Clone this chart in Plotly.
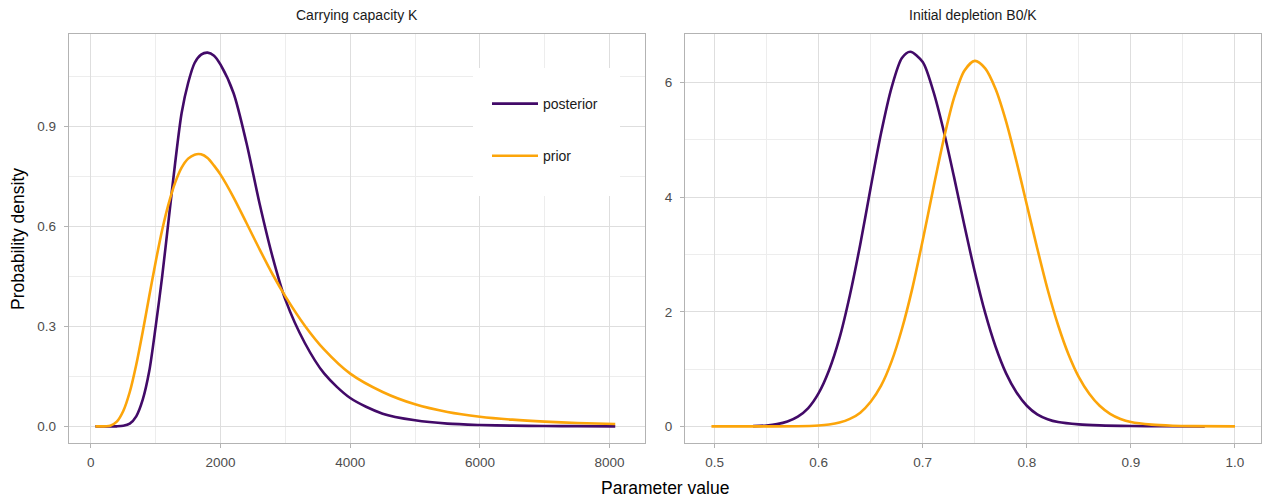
import plotly.graph_objects as go

# ---------------- data ----------------
# Carrying capacity K
k_x = [70, 300, 400, 500, 600, 700, 800, 900, 1000, 1100, 1200, 1300, 1400,
       1500, 1600, 1700, 1800, 1900, 2000, 2200, 2400, 2600, 2800, 3000, 3300,
       3600, 4000, 4500, 5000, 5500, 6000, 6500, 7000, 7500, 8087]
k_post = [0.0, 0.0, 0.0, 0.0015, 0.008, 0.03, 0.08, 0.165, 0.3, 0.45, 0.62,
          0.79, 0.94, 1.03, 1.09, 1.115, 1.121, 1.112, 1.085, 1.0, 0.85, 0.67,
          0.51, 0.38, 0.25, 0.158, 0.085, 0.038, 0.018, 0.008, 0.004, 0.002,
          0.001, 0.0005, 0.0]
k_prior = [0.0, 0.002, 0.014, 0.046, 0.103, 0.185, 0.284, 0.39, 0.494, 0.589,
           0.668, 0.731, 0.776, 0.803, 0.815, 0.816, 0.805, 0.782, 0.755, 0.687,
           0.61, 0.532, 0.457, 0.39, 0.302, 0.23, 0.158, 0.103, 0.066, 0.043,
           0.029, 0.02, 0.014, 0.01, 0.007]

# Initial depletion B0/K
d_post_x = [0.537, 0.55, 0.56, 0.57, 0.58, 0.59, 0.60, 0.61, 0.62, 0.63, 0.64,
            0.65, 0.66, 0.67, 0.68, 0.688, 0.70, 0.71, 0.72, 0.73, 0.74, 0.75,
            0.76, 0.77, 0.78, 0.79, 0.80, 0.81, 0.82, 0.83, 0.85, 0.87, 0.90,
            0.93, 0.971]
d_post = [0.005, 0.016, 0.039, 0.085, 0.17, 0.32, 0.58, 0.98, 1.54, 2.29, 3.18,
          4.17, 5.12, 5.91, 6.43, 6.54, 6.36, 5.86, 5.17, 4.36, 3.51, 2.70,
          1.98, 1.39, 0.93, 0.595, 0.36, 0.21, 0.125, 0.075, 0.035, 0.018,
          0.007, 0.002, 0.0]
d_prior_x = [0.497, 0.55, 0.58, 0.60, 0.61, 0.62, 0.63, 0.64, 0.65, 0.66, 0.67,
             0.68, 0.69, 0.70, 0.71, 0.72, 0.73, 0.74, 0.75, 0.76, 0.77, 0.78,
             0.79, 0.80, 0.81, 0.82, 0.83, 0.84, 0.85, 0.86, 0.87, 0.88, 0.89,
             0.90, 0.92, 0.94, 0.96, 1.0]
d_prior = [0.0, 0.0005, 0.003, 0.015, 0.032, 0.066, 0.13, 0.24, 0.43, 0.71,
           1.13, 1.70, 2.41, 3.25, 4.14, 5.00, 5.73, 6.21, 6.38, 6.25, 5.89,
           5.33, 4.63, 3.87, 3.11, 2.39, 1.77, 1.26, 0.86, 0.57, 0.36, 0.22,
           0.13, 0.075, 0.03, 0.012, 0.005, 0.001]

panel_titles = ["Carrying capacity K", "Initial depletion B0/K"]
series_names = ["posterior", "prior"]
colors = {"posterior": "#420A68", "prior": "#FCA50A"}

# ---------------- figure ----------------
W, H = 1262, 499
ml, mr, mt, mb = 69, 1, 34, 56
pw = W - ml - mr
ph = H - mt - mb
FONT = "Liberation Sans, Arial, sans-serif"


def px_x(p):
    return (p - ml) / pw


def px_y(p):
    return (H - mb - p) / ph


fig = go.Figure()

for name, yv in zip(series_names, [k_post, k_prior]):
    fig.add_trace(go.Scatter(x=k_x, y=yv, mode="lines", name=name,
                             legendgroup=name, showlegend=True,
                             line=dict(color=colors[name], width=2.6, shape="spline", smoothing=0.8),
                             xaxis="x", yaxis="y", hoverinfo="skip"))
for name, xv, yv in zip(series_names, [d_post_x, d_prior_x], [d_post, d_prior]):
    fig.add_trace(go.Scatter(x=xv, y=yv, mode="lines", name=name,
                             legendgroup=name, showlegend=False,
                             line=dict(color=colors[name], width=2.6, shape="spline", smoothing=0.8),
                             xaxis="x2", yaxis="y2", hoverinfo="skip"))

grid_major = "#dedede"
grid_minor = "#ededed"
border = "#b3b3b3"
tickfont = dict(family=FONT, size=13.5, color="#4d4d4d")

common = dict(showline=True, mirror=True, linecolor=border, linewidth=1.3,
              ticks="outside", ticklen=4, tickcolor=border, tickwidth=1,
              showgrid=True, gridcolor=grid_major, gridwidth=1,
              zeroline=False, tickfont=tickfont)

d1 = [0, px_x(645)]
d2 = [px_x(685), 1]

fig.update_layout(
    width=W, height=H,
    margin=dict(l=ml, r=mr, t=mt, b=mb),
    paper_bgcolor="white", plot_bgcolor="white",
    font=dict(family=FONT),
    xaxis=dict(domain=d1, range=[-337, 8546], tick0=0, dtick=2000, tickformat="d",
               minor=dict(showgrid=True, gridcolor=grid_minor, dtick=1000, tick0=0, ticks=""),
               ticklabelstandoff=3, anchor="y", **common),
    yaxis=dict(domain=[0, 1], range=[-0.05, 1.177], tick0=0, dtick=0.3, tickformat=".1f",
               minor=dict(showgrid=True, gridcolor=grid_minor, dtick=0.15, tick0=0, ticks=""),
               ticklabelstandoff=5, anchor="x", **common),
    xaxis2=dict(domain=d2, range=[0.4716, 1.025], tick0=0.5, dtick=0.1, tickformat=".1f",
                minor=dict(showgrid=True, gridcolor=grid_minor, dtick=0.05, tick0=0.5, ticks=""),
                ticklabelstandoff=3, anchor="y2", **common),
    yaxis2=dict(domain=[0, 1], range=[-0.29, 6.85], tick0=0, dtick=2, tickformat="d",
                minor=dict(showgrid=True, gridcolor=grid_minor, dtick=1, tick0=0, ticks=""),
                ticklabelstandoff=5, anchor="x2", **common),
    showlegend=True,
    legend=dict(x=px_x(487), y=px_y(88), xanchor="left", yanchor="top",
                bgcolor="rgba(0,0,0,0)", borderwidth=0,
                font=dict(family=FONT, size=14, color="#1a1a1a"),
                itemwidth=46, tracegroupgap=31, traceorder="grouped"),
)

# legend background box (covers grid, as in the reference)
fig.add_shape(type="rect", xref="paper", yref="paper",
              x0=px_x(473), x1=px_x(620), y0=px_y(196), y1=px_y(68),
              fillcolor="white", line=dict(width=0), layer="above")

# facet strip titles
for title, dom in zip(panel_titles, [d1, d2]):
    fig.add_annotation(text=title, xref="paper", yref="paper",
                       x=(dom[0] + dom[1]) / 2, y=px_y(15), xanchor="center", yanchor="middle",
                       showarrow=False,
                       font=dict(family=FONT, size=14, color="#1a1a1a"))

# axis titles
fig.add_annotation(text="Parameter value", xref="paper", yref="paper",
                   x=0.5, y=px_y(488), xanchor="center", yanchor="middle", showarrow=False,
                   font=dict(family=FONT, size=17.5, color="black"))
fig.add_annotation(text="Probability density", xref="paper", yref="paper",
                   x=px_x(18), y=px_y(239), xanchor="center", yanchor="middle", showarrow=False,
                   textangle=-90,
                   font=dict(family=FONT, size=17.5, color="black"))

fig.write_html("out.html")
